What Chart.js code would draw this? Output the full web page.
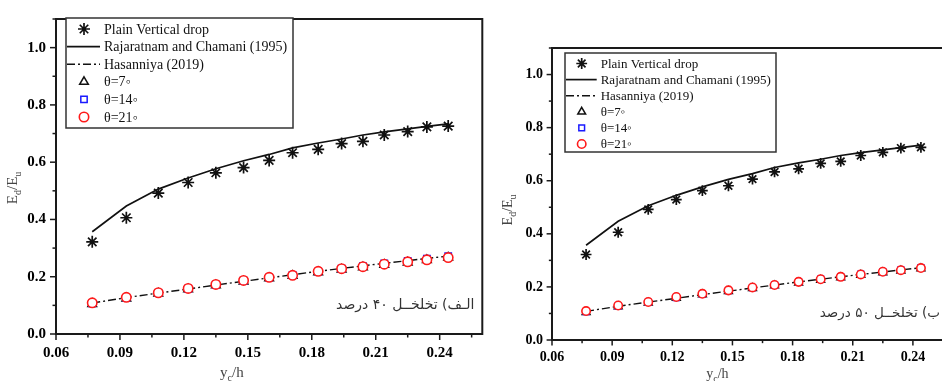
<!DOCTYPE html>
<html lang="en">
<head>
<meta charset="UTF-8">
<title>Ed/Eu vs yc/h</title>
<script src="https://cdn.jsdelivr.net/npm/chart.js"></script>
<style>
  html, body { margin: 0; padding: 0; background: #fff; overflow: hidden; width: 942px; height: 381px; }
  .box { position: absolute; top: 0; height: 381px; }
  #left { left: 0; width: 490px; }
  #right { left: 490px; width: 480px; }
</style>
</head>
<body>
<div class="box" id="left"><canvas id="chartA" width="490" height="381"></canvas></div>
<div class="box" id="right"><canvas id="chartB" width="480" height="381"></canvas></div>
<script>
// y_c / h
const ycH = [0.077, 0.093, 0.108, 0.122, 0.135, 0.148, 0.160, 0.171, 0.183, 0.194, 0.204, 0.214, 0.225, 0.234, 0.244];

// plain vertical drop and the two empirical relations
const plainDrop  = [0.322, 0.406, 0.492, 0.529, 0.563, 0.581, 0.606, 0.633, 0.645, 0.665, 0.673, 0.695, 0.707, 0.723, 0.726];
const rajaratnam = [0.357, 0.447, 0.506, 0.545, 0.577, 0.605, 0.627, 0.650, 0.667, 0.681, 0.695, 0.706, 0.716, 0.725, 0.734];
const hasanniya  = [0.108, 0.127, 0.143, 0.157, 0.171, 0.184, 0.196, 0.207, 0.219, 0.229, 0.238, 0.247, 0.256, 0.264, 0.272];

// 40 % porosity
const p40t7  = [0.105, 0.124, 0.141, 0.156, 0.170, 0.183, 0.195, 0.203, 0.216, 0.225, 0.233, 0.242, 0.250, 0.258, 0.267];
const p40t14 = [0.107, 0.126, 0.143, 0.158, 0.172, 0.186, 0.197, 0.206, 0.218, 0.228, 0.237, 0.246, 0.255, 0.263, 0.272];
const p40t21 = [0.109, 0.128, 0.144, 0.159, 0.173, 0.187, 0.198, 0.205, 0.219, 0.228, 0.235, 0.244, 0.252, 0.259, 0.267];

// 50 % porosity
const p50t7  = [0.105, 0.126, 0.140, 0.158, 0.171, 0.184, 0.195, 0.205, 0.216, 0.226, 0.235, 0.245, 0.254, 0.261, 0.269];
const p50t14 = [0.107, 0.128, 0.142, 0.160, 0.173, 0.186, 0.197, 0.207, 0.218, 0.229, 0.238, 0.248, 0.257, 0.264, 0.273];
const p50t21 = [0.109, 0.130, 0.143, 0.162, 0.174, 0.187, 0.198, 0.207, 0.219, 0.229, 0.238, 0.247, 0.257, 0.263, 0.271];

// axis ticks (every other one is a minor tick)
const xTicks = [0.06, 0.075, 0.09, 0.105, 0.12, 0.135, 0.15, 0.165, 0.18, 0.195, 0.21, 0.225, 0.24, 0.255];
const yTicks = [0, 0.1, 0.2, 0.3, 0.4, 0.5, 0.6, 0.7, 0.8, 0.9, 1.0, 1.1];

const pts = arr => ycH.map((x, i) => ({ x: x, y: arr[i] }));

function drawSub(ctx, parts, cx, base, size) {
  const big = size + 'px "Liberation Serif"';
  const small = Math.round(size * 0.68) + 'px "Liberation Serif"';
  let w = 0;
  parts.forEach(p => { ctx.font = p[1] ? small : big; w += ctx.measureText(p[0]).width; });
  let x = cx - w / 2;
  ctx.textAlign = 'left';
  ctx.textBaseline = 'alphabetic';
  parts.forEach(p => {
    ctx.font = p[1] ? small : big;
    ctx.fillText(p[0], x, base + (p[1] ? size * 0.28 : 0));
    x += ctx.measureText(p[0]).width;
  });
}

const deco = {
  id: 'deco',
  afterDraw(chart, args, o) {
    const ctx = chart.ctx, a = chart.chartArea, xs = chart.scales.x, ys = chart.scales.y;
    ctx.save();
    ctx.strokeStyle = '#1a1a1a';
    ctx.lineWidth = 1.5;
    xs.ticks.forEach((t, i) => {
      const p = xs.getPixelForValue(t.value);
      ctx.beginPath();
      ctx.moveTo(p, a.bottom);
      ctx.lineTo(p, a.bottom + (i % 2 ? o.minor : o.major));
      ctx.stroke();
    });
    ys.ticks.forEach((t, i) => {
      const p = ys.getPixelForValue(t.value);
      ctx.beginPath();
      ctx.moveTo(a.left, p);
      ctx.lineTo(a.left - (i % 2 ? o.minor : o.major), p);
      ctx.stroke();
    });
    ctx.lineWidth = 2;
    ctx.strokeRect(a.left, a.top, a.right - a.left, a.bottom - a.top);

    // axis titles
    ctx.fillStyle = '#444';
    drawSub(ctx, [['y', 0], ['c', 1], ['/h', 0]], xs.getPixelForValue(0.1425), a.bottom + o.xTitle, o.titleSize);
    ctx.save();
    ctx.translate(a.left - o.yTitle, ys.getPixelForValue(o.yTitleAt));
    ctx.rotate(-Math.PI / 2);
    drawSub(ctx, [['E', 0], ['d', 1], ['/E', 0], ['u', 1]], 0, 0, o.titleSize);
    ctx.restore();

    // porosity note
    ctx.font = o.noteSize + 'px "DejaVu Sans"';
    ctx.fillStyle = '#333';
    ctx.direction = 'rtl';
    ctx.textAlign = 'right';
    ctx.textBaseline = 'middle';
    ctx.fillText(o.note, a.right - o.noteGap, ys.getPixelForValue(o.noteY));
    ctx.direction = 'ltr';

    // legend
    const L = o.legend;
    ctx.fillStyle = '#fff';
    ctx.fillRect(L.x, L.y, L.w, L.h);
    ctx.lineWidth = 1.5;
    ctx.strokeStyle = '#333';
    ctx.strokeRect(L.x, L.y, L.w, L.h);
    ctx.font = L.size + 'px "Liberation Serif"';
    ctx.textAlign = 'left';
    ctx.textBaseline = 'middle';
    chart.data.datasets.forEach((d, r) => {
      const cy = L.y + L.first + r * L.row;
      ctx.save();
      if (d.showLine) {
        ctx.strokeStyle = d.borderColor;
        ctx.lineWidth = d.borderWidth;
        ctx.setLineDash(d.borderDash || []);
        ctx.beginPath();
        ctx.moveTo(L.x + 1, cy);
        ctx.lineTo(L.x + L.text - 4, cy);
        ctx.stroke();
      } else {
        ctx.strokeStyle = d.borderColor;
        ctx.fillStyle = d.backgroundColor;
        ctx.lineWidth = d.borderWidth;
        Chart.helpers.drawPoint(ctx, { pointStyle: d.pointStyle, radius: d.pointRadius, borderWidth: d.borderWidth, rotation: 0 }, L.x + L.sym, cy);
      }
      ctx.restore();
      ctx.fillStyle = '#111';
      ctx.fillText(d.label, L.x + L.text, cy + 1);
    });
    ctx.restore();
  }
};

function makeChart(id, s, t7, t14, t21, box, extra) {
  const tickFont = { family: 'Liberation Serif', size: Math.round(15 * s), weight: 'bold' };
  return new Chart(document.getElementById(id), {
    type: 'scatter',
    data: {
      datasets: [
        { label: 'Plain Vertical drop', data: pts(plainDrop), pointStyle: 'star', pointRadius: 6 * s, borderColor: '#111', backgroundColor: '#111', borderWidth: 1.7, order: 5 },
        { label: 'Rajaratnam and Chamani (1995)', data: pts(rajaratnam), showLine: true, pointRadius: 0, borderColor: '#111', borderWidth: 1.7, order: 4 },
        { label: 'Hasanniya (2019)', data: pts(hasanniya), showLine: true, pointRadius: 0, borderColor: '#111', borderWidth: 1.4, borderDash: [8, 3, 2, 3], order: 3 },
        { label: 'θ=7◦', data: pts(t7), pointStyle: 'triangle', pointRadius: 5 * s, borderColor: '#111', backgroundColor: '#fff', borderWidth: 1.5, order: 2 },
        { label: 'θ=14◦', data: pts(t14), pointStyle: 'rect', pointRadius: 4.5 * s, borderColor: '#1a1aff', backgroundColor: '#fff', borderWidth: 1.5, order: 1 },
        { label: 'θ=21◦', data: pts(t21), pointStyle: 'circle', pointRadius: 4.7 * s, borderColor: '#ff1a1a', backgroundColor: '#fff', borderWidth: 1.6, order: 0 }
      ]
    },
    options: {
      responsive: false,
      animation: false,
      events: [],
      layout: { padding: { top: box.top, right: box.right, left: 0, bottom: 0 } },
      plugins: {
        legend: { display: false },
        tooltip: { enabled: false },
        deco: Object.assign({ major: 6 * s, minor: 3.5 * s, titleSize: Math.round(15 * s) }, extra)
      },
      scales: {
        x: {
          type: 'linear', min: 0.06, max: 0.26,
          afterBuildTicks: sc => { sc.ticks = xTicks.map(v => ({ value: v })); },
          afterFit: sc => { sc.height = box.xh; },
          grid: { display: false, drawTicks: false },
          border: { display: false },
          ticks: { autoSkip: false, maxRotation: 0, padding: box.xpad, color: '#000', font: tickFont,
                   callback: (v, i) => i % 2 ? '' : v.toFixed(2) }
        },
        y: {
          type: 'linear', min: 0, max: 1.1,
          afterBuildTicks: sc => { sc.ticks = yTicks.map(v => ({ value: v })); },
          afterFit: sc => { sc.width = box.yw; },
          grid: { display: false, drawTicks: false },
          border: { display: false },
          ticks: { autoSkip: false, padding: box.ypad, color: '#000', font: tickFont,
                   callback: (v, i) => i % 2 ? '' : v.toFixed(1) }
        }
      }
    },
    plugins: [deco]
  });
}

makeChart('chartA', 1, p40t7, p40t14, p40t21,
  { top: 8, right: 5, xh: 47, yw: 56, xpad: 10, ypad: 10 },
  { xTitle: 43, yTitle: 39, yTitleAt: 0.51, note: 'الـف) تخلخــل ۴۰ درصد', noteSize: 14, noteGap: 8, noteY: 0.10,
    legend: { x: 66, y: 18, w: 227, h: 110, first: 11, row: 17.6, sym: 18, text: 38, size: 14 } });

makeChart('chartB', 0.9, p50t7, p50t14, p50t21,
  { top: 48, right: 17, xh: 41, yw: 62, xpad: 9, ypad: 9 },
  { xTitle: 38, yTitle: 40, yTitleAt: 0.49, note: 'ب) تخلخــل ۵۰ درصد', noteSize: 13.5, noteGap: 13, noteY: 0.10,
    legend: { x: 75, y: 53, w: 211, h: 99, first: 10.5, row: 16.1, sym: 16.7, text: 35.7, size: 13 } });
</script>
</body>
</html>
